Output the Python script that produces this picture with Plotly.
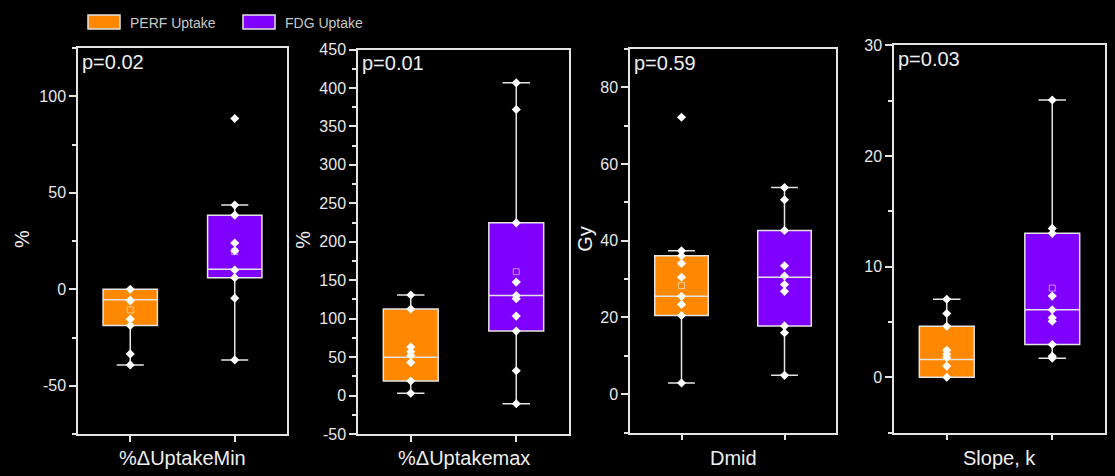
import plotly.graph_objects as go

W, H = 1115, 476

# ---------------- data ----------------
groups = ["PERF Uptake", "FDG Uptake"]
panel_titles = ["%\u0394UptakeMin", "%\u0394Uptakemax", "Dmid", "Slope, k"]
y_titles = ["%", "%", "Gy", ""]
p_values = ["p=0.02", "p=0.01", "p=0.59", "p=0.03"]

# raw points (PERF, FDG) per panel
perf_min_pts = [0, -5.7, -6, -15.5, -18.8, -33.5, -39.2]
fdg_min_pts = [88.5, 43.6, 38.4, 24, 20, 10, 6, -4.6, -36.6]
perf_max_pts = [130.7, 112.5, 63, 57, 52, 43, 18.9, 2.9]
fdg_max_pts = [406.6, 372, 224.6, 147.5, 130, 125.8, 103.3, 83.8, 32.2, -10.6]
perf_dmid_pts = [72.2, 37.4, 36.1, 34.1, 30.5, 25.5, 23.4, 20.5, 2.9]
fdg_dmid_pts = [53.9, 50.7, 42.7, 33.5, 30.8, 28.6, 26.8, 17.8, 16.0, 4.9]
perf_k_pts = [7.05, 5.76, 4.6, 2.44, 2.08, 1.78, 1.0, 0]
fdg_k_pts = [25.05, 13.45, 13.0, 7.33, 6.1, 5.37, 5.06, 2.95, 1.9, 1.72]

# box statistics (PERF, FDG) per panel: q1, median, q3, lower whisker, upper whisker, mean
q1_perf = [-18.8, 18.9, 20.5, 0]
med_perf = [-5.5, 49.7, 25.5, 1.6]
q3_perf = [0, 112.5, 36.1, 4.6]
lo_perf = [-39.2, 2.9, 2.9, 0]
hi_perf = [0, 130.7, 37.4, 7.05]
mean_perf = [-10.7, None, 28.3, None]

q1_fdg = [6, 83.8, 17.8, 2.95]
med_fdg = [10.4, 130, 30.5, 6.1]
q3_fdg = [38.4, 224.6, 42.7, 13.0]
lo_fdg = [-36.6, -10.6, 4.9, 1.72]
hi_fdg = [43.6, 406.6, 53.9, 25.05]
mean_fdg = [19.5, 161, None, 8.05]

# axis ticks per panel
y_ranges = [[-75, 125], [-50, 450], [-10, 90], [-5, 30]]
y_tickvals = [[-50, 0, 50, 100],
              [-50, 0, 50, 100, 150, 200, 250, 300, 350, 400, 450],
              [0, 20, 40, 60, 80],
              [0, 10, 20, 30]]
y_minor = [25, 25, 10, 5]

# ---------------- styling ----------------
perf_color = "#FF8800"
fdg_color = "#8000FF"
line_col = "#E4E4E4"
font_fam = "Liberation Sans, Arial, sans-serif"

# frames in pixels: (left, right, top, bottom)
frames = [(78, 287, 48, 434), (358, 569, 49.5, 434), (630, 836, 49, 432.5), (894, 1105, 45.3, 432.5)]

pts_all = [(perf_min_pts, fdg_min_pts), (perf_max_pts, fdg_max_pts),
           (perf_dmid_pts, fdg_dmid_pts), (perf_k_pts, fdg_k_pts)]

fig = go.Figure()
annotations = []
shapes = []

for i in range(4):
    xa = "x" if i == 0 else f"x{i+1}"
    ya = "y" if i == 0 else f"y{i+1}"
    L, R, T, B = frames[i]
    fills = [perf_color, fdg_color]
    stats = [
        (q1_perf[i], med_perf[i], q3_perf[i], lo_perf[i], hi_perf[i], mean_perf[i]),
        (q1_fdg[i], med_fdg[i], q3_fdg[i], lo_fdg[i], hi_fdg[i], mean_fdg[i]),
    ]
    for g in range(2):
        q1, md, q3, lo, hi, mn = stats[g]
        fig.add_trace(go.Box(
            x=[g], q1=[q1], median=[md], q3=[q3], lowerfence=[lo], upperfence=[hi],
            fillcolor=fills[g], line=dict(color=line_col, width=1.5),
            width=0.52, whiskerwidth=0.5, boxpoints=False,
            xaxis=xa, yaxis=ya, showlegend=False, name=groups[g], hoverinfo="skip"))
        if mn is not None:
            fig.add_trace(go.Scatter(
                x=[g], y=[mn], mode="markers",
                marker=dict(symbol="square-open", size=6,
                            color="rgba(255,255,255,0.55)", line=dict(width=1)),
                xaxis=xa, yaxis=ya, showlegend=False, hoverinfo="skip"))
        pts = pts_all[i][g]
        fig.add_trace(go.Scatter(
            x=[g] * len(pts), y=pts, mode="markers",
            marker=dict(symbol="diamond", size=7, color="white"),
            xaxis=xa, yaxis=ya, showlegend=False, hoverinfo="skip"))

    xkey = "xaxis" if i == 0 else f"xaxis{i+1}"
    ykey = "yaxis" if i == 0 else f"yaxis{i+1}"
    fig.layout[xkey] = dict(
        domain=[L / W, R / W], anchor=ya, range=[-0.5, 1.5],
        tickmode="array", tickvals=[0, 1], ticktext=["", ""],
        ticks="outside", ticklen=6, tickwidth=1.5, tickcolor=line_col,
        showline=True, linecolor=line_col, linewidth=1.5, mirror=True,
        showgrid=False, zeroline=False, fixedrange=True, automargin=False)
    fig.layout[ykey] = dict(
        domain=[1 - B / H, 1 - T / H], anchor=xa, range=y_ranges[i],
        tickmode="array", tickvals=y_tickvals[i], ticktext=[str(v) for v in y_tickvals[i]],
        ticks="outside", ticklen=7, tickwidth=1.5, tickcolor=line_col,
        tickfont=dict(size=16, color="#E8E8E8", family=font_fam),
        minor=dict(tickmode="linear", tick0=0, dtick=y_minor[i], ticks="outside",
                   ticklen=4, tickwidth=1.5, tickcolor=line_col, showgrid=False),
        showline=True, linecolor=line_col, linewidth=1.5, mirror=True,
        showgrid=False, zeroline=False, fixedrange=True, automargin=False)

    # x title
    annotations.append(dict(
        text=panel_titles[i], xref="paper", yref="paper",
        x=(L + R) / 2 / W, y=1 - 458 / H, xanchor="center", yanchor="middle",
        showarrow=False, font=dict(size=20, color="#EEEEEE", family=font_fam)))
    # p value
    annotations.append(dict(
        text=p_values[i], xref="paper", yref="paper",
        x=(L + 2) / W, y=1 - (T + 14) / H, xanchor="left", yanchor="middle",
        showarrow=False, font=dict(size=20, color="#EEEEEE", family=font_fam)))

# y titles
ytitle_x = [22, 303, 585, None]
for i in range(4):
    if y_titles[i]:
        L, R, T, B = frames[i]
        annotations.append(dict(
            text=y_titles[i], xref="paper", yref="paper", textangle=-90,
            x=ytitle_x[i] / W, y=1 - ((T + B) / 2 - 2) / H, xanchor="center", yanchor="middle",
            showarrow=False, font=dict(size=20, color="#EEEEEE", family=font_fam)))

# legend (swatches + labels)
legend_x = [88, 243]
for g in range(2):
    x0 = legend_x[g]
    shapes.append(dict(type="rect", xref="paper", yref="paper",
                       x0=x0 / W, x1=(x0 + 32) / W, y0=1 - 29 / H, y1=1 - 15 / H,
                       fillcolor=[perf_color, fdg_color][g],
                       line=dict(color="#E4E4E4", width=1.5)))
    annotations.append(dict(
        text=groups[g], xref="paper", yref="paper",
        x=(x0 + 40) / W, y=1 - 22.5 / H, xanchor="left", yanchor="middle",
        showarrow=False, font=dict(size=14, color="#C8C8C8", family=font_fam)))

fig.update_layout(
    autosize=True, margin=dict(l=0, r=0, t=0, b=0, pad=0),
    paper_bgcolor="black", plot_bgcolor="black",
    annotations=annotations, shapes=shapes, showlegend=False,
    font=dict(family=font_fam, color="#E8E8E8"))

fig.write_html(
    "out.html", config={"displayModeBar": False, "responsive": True},
    default_width="100vw", default_height="100vh",
    post_script="document.body.style.margin='0';document.body.style.padding='0';"
                "document.body.style.overflow='hidden';document.body.style.background='black';"
                "document.documentElement.style.background='black';"
                "document.documentElement.style.overflow='hidden';")
